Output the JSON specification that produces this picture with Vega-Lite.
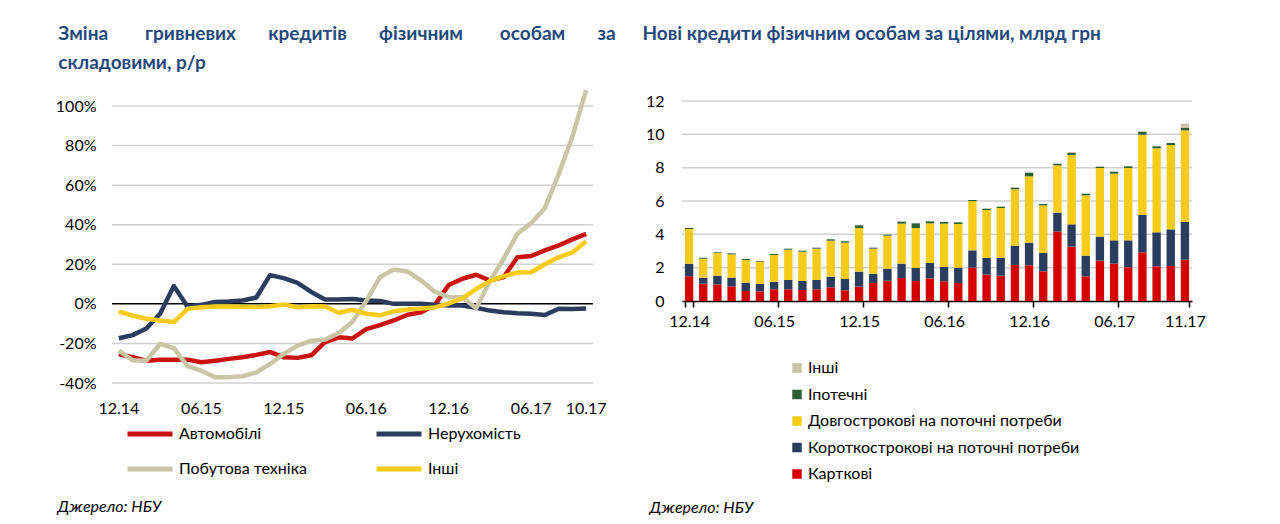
{
  "$schema": "https://vega.github.io/schema/vega-lite/v6.json",
  "padding": {"left": 55, "top": 24, "right": 0, "bottom": 0},
  "background": "white",
  "spacing": 26,
  "resolve": {"scale": {"x": "independent", "y": "independent", "color": "independent"}, "legend": {"color": "independent"}, "axis": {"x": "independent", "y": "independent"}},
  "config": {
    "font": "Lato",
    "view": {"stroke": null},
    "title": {"font": "Lato", "fontSize": 19, "fontWeight": "bold", "color": "#1F497D", "anchor": "start", "frame": "bounds", "lineHeight": 29},
    "axis": {"labelFont": "Lato", "labelFontSize": 16, "labelColor": "#000000", "titleFont": "Lato", "titleFontSize": 16, "titleFontStyle": "italic", "titleFontWeight": "normal", "titleColor": "#000000"},
    "legend": {"labelFont": "Lato", "labelFontSize": 16, "labelColor": "#000000", "padding": 0, "labelLimit": 500}
  },
  "hconcat": [
    {
      "width": 481,
      "height": 282,
      "title": {"text": ["Зміна\u00a0\u00a0\u00a0\u00a0\u00a0\u00a0\u00a0\u00a0гривневих\u00a0\u00a0\u00a0\u00a0\u00a0\u00a0\u00a0кредитів\u00a0\u00a0\u00a0\u00a0\u00a0\u00a0\u00a0фізичним\u00a0\u00a0\u00a0\u00a0\u00a0\u00a0\u00a0\u00a0особам\u00a0\u00a0\u00a0\u00a0\u00a0\u00a0\u00a0за", "складовими, р/р"], "offset": 15, "dx": 3},
      "data": {"values": [
        {"m": "12.14", "Автомобілі": -25.5, "Нерухомість": -17.4, "Побутова техніка": -23.6, "Інші": -3.9},
        {"m": "01.15", "Автомобілі": -27, "Нерухомість": -15.8, "Побутова техніка": -28.5, "Інші": -5.9},
        {"m": "02.15", "Автомобілі": -28.7, "Нерухомість": -12.5, "Побутова техніка": -28.7, "Інші": -7.5},
        {"m": "03.15", "Автомобілі": -28.2, "Нерухомість": -5, "Побутова техніка": -20.3, "Інші": -8.4},
        {"m": "04.15", "Автомобілі": -28.2, "Нерухомість": 9, "Побутова техніка": -22.4, "Інші": -9.2},
        {"m": "05.15", "Автомобілі": -28.2, "Нерухомість": -1.5, "Побутова техніка": -31.5, "Інші": -2.5},
        {"m": "06.15", "Автомобілі": -29.5, "Нерухомість": -0.5, "Побутова техніка": -33.8, "Інші": -1.7},
        {"m": "07.15", "Автомобілі": -28.7, "Нерухомість": 1, "Побутова техніка": -37.1, "Інші": -1.3},
        {"m": "08.15", "Автомобілі": -27.8, "Нерухомість": 1.2, "Побутова техніка": -37.1, "Інші": -1.3},
        {"m": "09.15", "Автомобілі": -27, "Нерухомість": 1.7, "Побутова техніка": -36.6, "Інші": -1.5},
        {"m": "10.15", "Автомобілі": -25.8, "Нерухомість": 3.2, "Побутова техніка": -34.6, "Інші": -1.6},
        {"m": "11.15", "Автомобілі": -24.3, "Нерухомість": 14.5, "Побутова техніка": -30.4, "Інші": -1.2},
        {"m": "12.15", "Автомобілі": -27, "Нерухомість": 13, "Побутова техніка": -25.3, "Інші": -0.3},
        {"m": "01.16", "Автомобілі": -27.3, "Нерухомість": 10.6, "Побутова техніка": -21.1, "Інші": -1.7},
        {"m": "02.16", "Автомобілі": -26, "Нерухомість": 6, "Побутова техніка": -18.6, "Інші": -1.2},
        {"m": "03.16", "Автомобілі": -19.4, "Нерухомість": 2.2, "Побутова техніка": -18, "Інші": -1.3},
        {"m": "04.16", "Автомобілі": -16.9, "Нерухомість": 2.2, "Побутова техніка": -14.8, "Інші": -4.5},
        {"m": "05.16", "Автомобілі": -17.5, "Нерухомість": 2.5, "Побутова техніка": -9, "Інші": -3},
        {"m": "06.16", "Автомобілі": -12.8, "Нерухомість": 1.7, "Побутова техніка": 1.5, "Інші": -5},
        {"m": "07.16", "Автомобілі": -10.7, "Нерухомість": 1.5, "Побутова техніка": 13.5, "Інші": -5.8},
        {"m": "08.16", "Автомобілі": -8.4, "Нерухомість": 0, "Побутова техніка": 17.4, "Інші": -3.8},
        {"m": "09.16", "Автомобілі": -5.5, "Нерухомість": 0, "Побутова техніка": 16.4, "Інші": -2.8},
        {"m": "10.16", "Автомобілі": -4.2, "Нерухомість": 0, "Побутова техніка": 11.8, "Інші": -2.4},
        {"m": "11.16", "Автомобілі": -0.5, "Нерухомість": -0.5, "Побутова техніка": 6, "Інші": -1.8},
        {"m": "12.16", "Автомобілі": 9.5, "Нерухомість": -0.8, "Побутова техніка": 3.5, "Інші": 0.2},
        {"m": "01.17", "Автомобілі": 12.7, "Нерухомість": -0.8, "Побутова техніка": 3.4, "Інші": 2.8},
        {"m": "02.17", "Автомобілі": 14.7, "Нерухомість": -2, "Побутова техніка": -2.2, "Інші": 7.5},
        {"m": "03.17", "Автомобілі": 11.8, "Нерухомість": -3.4, "Побутова техніка": 11.5, "Інші": 11.5},
        {"m": "04.17", "Автомобілі": 13.5, "Нерухомість": -4.2, "Побутова техніка": 22.8, "Інші": 14},
        {"m": "05.17", "Автомобілі": 23.6, "Нерухомість": -4.7, "Побутова техніка": 35.5, "Інші": 15.8},
        {"m": "06.17", "Автомобілі": 24.2, "Нерухомість": -5, "Побутова техніка": 40.8, "Інші": 16},
        {"m": "07.17", "Автомобілі": 27, "Нерухомість": -5.6, "Побутова техніка": 48.5, "Інші": 20},
        {"m": "08.17", "Автомобілі": 29.5, "Нерухомість": -2.5, "Побутова техніка": 65.5, "Інші": 23.5},
        {"m": "09.17", "Автомобілі": 32.6, "Нерухомість": -2.6, "Побутова техніка": 84.5, "Інші": 26},
        {"m": "10.17", "Автомобілі": 35.4, "Нерухомість": -2.3, "Побутова техніка": 108, "Інші": 31.6}
      ]},
      "layer": [
        {
          "data": {"values": [{"g": -40}, {"g": -20}, {"g": 20}, {"g": 40}, {"g": 60}, {"g": 80}, {"g": 100}]},
          "mark": {"type": "rule", "color": "#D0D0D0", "strokeWidth": 1.5},
          "encoding": {"y": {"field": "g", "type": "quantitative",
            "axis": {"values": [-40, -20, 0, 20, 40, 60, 80, 100], "labelExpr": "datum.value + '%'", "labelOverlap": false, "grid": false, "domain": false, "ticks": false, "labelPadding": 16, "title": null}}}
        },
        {
          "data": {"values": [{"z": 0}]},
          "mark": {"type": "rule", "color": "#000000", "strokeWidth": 1.5},
          "encoding": {"y": {"field": "z", "type": "quantitative"}}
        },
        {
          "transform": [{"fold": ["Автомобілі", "Нерухомість", "Побутова техніка", "Інші"], "as": ["s", "v"]}],
          "mark": {"type": "line", "strokeWidth": 4.5, "strokeJoin": "round", "strokeCap": "butt", "clip": false},
          "encoding": {
            "x": {"field": "m", "type": "ordinal", "sort": null, "bandPosition": 0.5,
              "scale": {"type": "band", "paddingInner": 0, "paddingOuter": 0},
              "axis": {"values": ["12.14", "06.15", "12.15", "06.16", "12.16", "06.17", "10.17"], "domain": false, "ticks": false, "grid": false, "labelAngle": 0, "labelPadding": 17,
                "title": "Джерело: НБУ", "titleAnchor": "start", "titleAlign": "left", "titleBaseline": "alphabetic", "titleX": -55, "titleY": 128}},
            "y": {"field": "v", "type": "quantitative",
              "scale": {"domain": [-40, 102.53], "nice": false, "zero": false},
              "axis": {"values": [-40, -20, 0, 20, 40, 60, 80, 100], "labelExpr": "datum.value + '%'", "labelOverlap": false, "grid": false, "domain": false, "ticks": false, "labelPadding": 16, "title": null}},
            "color": {"field": "s", "type": "nominal",
              "scale": {"domain": ["Автомобілі", "Нерухомість", "Побутова техніка", "Інші"], "range": ["#CC1111", "#2B3D5F", "#C9C6A6", "#F7CB1A"]},
              "legend": {"title": null, "orient": "none", "legendX": 13, "legendY": 308, "columns": 2, "direction": "horizontal", "symbolType": "stroke", "symbolSize": 2025, "symbolStrokeWidth": 5, "columnPadding": 59, "rowPadding": -17, "labelOffset": 4}
            }
          }
        }
      ]
    },
    {
      "width": 510,
      "height": 200,
      "title": {"text": "Нові кредити фізичним особам за цілями, млрд грн", "offset": 49, "dx": -3},
      "data": {"values": [
        {"m": "12.14", "Карткові": 1.48, "Короткострокові на поточні потреби": 0.76, "Довгострокові на поточні потреби": 2.08, "Іпотечні": 0.06, "Інші": 0},
        {"m": "01.15", "Карткові": 1.04, "Короткострокові на поточні потреби": 0.36, "Довгострокові на поточні потреби": 1.14, "Іпотечні": 0.06, "Інші": 0},
        {"m": "02.15", "Карткові": 1.0, "Короткострокові на поточні потреби": 0.52, "Довгострокові на поточні потреби": 1.38, "Іпотечні": 0.04, "Інші": 0},
        {"m": "03.15", "Карткові": 0.88, "Короткострокові на поточні потреби": 0.52, "Довгострокові на поточні потреби": 1.4, "Іпотечні": 0.06, "Інші": 0},
        {"m": "04.15", "Карткові": 0.6, "Короткострокові на поточні потреби": 0.5, "Довгострокові на поточні потреби": 1.36, "Іпотечні": 0.06, "Інші": 0},
        {"m": "05.15", "Карткові": 0.58, "Короткострокові на поточні потреби": 0.44, "Довгострокові на поточні потреби": 1.34, "Іпотечні": 0.04, "Інші": 0},
        {"m": "06.15", "Карткові": 0.7, "Короткострокові на поточні потреби": 0.46, "Довгострокові на поточні потреби": 1.6, "Іпотечні": 0.06, "Інші": 0},
        {"m": "07.15", "Карткові": 0.7, "Короткострокові на поточні потреби": 0.56, "Довгострокові на поточні потреби": 1.82, "Іпотечні": 0.06, "Інші": 0},
        {"m": "08.15", "Карткові": 0.66, "Короткострокові на поточні потреби": 0.54, "Довгострокові на поточні потреби": 1.76, "Іпотечні": 0.06, "Інші": 0},
        {"m": "09.15", "Карткові": 0.7, "Короткострокові на поточні потреби": 0.56, "Довгострокові на поточні потреби": 1.88, "Іпотечні": 0.06, "Інші": 0},
        {"m": "10.15", "Карткові": 0.82, "Короткострокові на поточні потреби": 0.64, "Довгострокові на поточні потреби": 2.16, "Іпотечні": 0.08, "Інші": 0},
        {"m": "11.15", "Карткові": 0.64, "Короткострокові на поточні потреби": 0.68, "Довгострокові на поточні потреби": 2.18, "Іпотечні": 0.08, "Інші": 0},
        {"m": "12.15", "Карткові": 0.86, "Короткострокові на поточні потреби": 0.9, "Довгострокові на поточні потреби": 2.62, "Іпотечні": 0.16, "Інші": 0},
        {"m": "01.16", "Карткові": 1.08, "Короткострокові на поточні потреби": 0.56, "Довгострокові на поточні потреби": 1.5, "Іпотечні": 0.06, "Інші": 0},
        {"m": "02.16", "Карткові": 1.22, "Короткострокові на поточні потреби": 0.72, "Довгострокові на поточні потреби": 1.98, "Іпотечні": 0.06, "Інші": 0},
        {"m": "03.16", "Карткові": 1.38, "Короткострокові на поточні потреби": 0.86, "Довгострокові на поточні потреби": 2.4, "Іпотечні": 0.12, "Інші": 0},
        {"m": "04.16", "Карткові": 1.2, "Короткострокові на поточні потреби": 0.78, "Довгострокові на поточні потреби": 2.4, "Іпотечні": 0.28, "Інші": 0},
        {"m": "05.16", "Карткові": 1.36, "Короткострокові на поточні потреби": 0.92, "Довгострокові на поточні потреби": 2.38, "Іпотечні": 0.12, "Інші": 0},
        {"m": "06.16", "Карткові": 1.18, "Короткострокові на поточні потреби": 0.86, "Довгострокові на поточні потреби": 2.6, "Іпотечні": 0.1, "Інші": 0},
        {"m": "07.16", "Карткові": 1.08, "Короткострокові на поточні потреби": 0.92, "Довгострокові на поточні потреби": 2.62, "Іпотечні": 0.1, "Інші": 0},
        {"m": "08.16", "Карткові": 2.0, "Короткострокові на поточні потреби": 1.04, "Довгострокові на поточні потреби": 2.96, "Іпотечні": 0.06, "Інші": 0},
        {"m": "09.16", "Карткові": 1.58, "Короткострокові на поточні потреби": 1.0, "Довгострокові на поточні потреби": 2.88, "Іпотечні": 0.08, "Інші": 0},
        {"m": "10.16", "Карткові": 1.52, "Короткострокові на поточні потреби": 1.06, "Довгострокові на поточні потреби": 3.0, "Іпотечні": 0.08, "Інші": 0},
        {"m": "11.16", "Карткові": 2.16, "Короткострокові на поточні потреби": 1.16, "Довгострокові на поточні потреби": 3.38, "Іпотечні": 0.1, "Інші": 0},
        {"m": "12.16", "Карткові": 2.14, "Короткострокові на поточні потреби": 1.36, "Довгострокові на поточні потреби": 3.98, "Іпотечні": 0.22, "Інші": 0},
        {"m": "01.17", "Карткові": 1.78, "Короткострокові на поточні потреби": 1.1, "Довгострокові на поточні потреби": 2.86, "Іпотечні": 0.08, "Інші": 0},
        {"m": "02.17", "Карткові": 4.16, "Короткострокові на поточні потреби": 1.14, "Довгострокові на поточні потреби": 2.84, "Іпотечні": 0.1, "Інші": 0},
        {"m": "03.17", "Карткові": 3.26, "Короткострокові на поточні потреби": 1.34, "Довгострокові на поточні потреби": 4.16, "Іпотечні": 0.14, "Інші": 0},
        {"m": "04.17", "Карткові": 1.48, "Короткострокові на поточні потреби": 1.24, "Довгострокові на поточні потреби": 3.62, "Іпотечні": 0.1, "Інші": 0},
        {"m": "05.17", "Карткові": 2.42, "Короткострокові на поточні потреби": 1.44, "Довгострокові на поточні потреби": 4.12, "Іпотечні": 0.08, "Інші": 0},
        {"m": "06.17", "Карткові": 2.24, "Короткострокові на поточні потреби": 1.4, "Довгострокові на поточні потреби": 4.0, "Іпотечні": 0.12, "Інші": 0},
        {"m": "07.17", "Карткові": 2.02, "Короткострокові на поточні потреби": 1.62, "Довгострокові на поточні потреби": 4.34, "Іпотечні": 0.1, "Інші": 0},
        {"m": "08.17", "Карткові": 2.92, "Короткострокові на поточні потреби": 2.24, "Довгострокові на поточні потреби": 4.82, "Іпотечні": 0.18, "Інші": 0},
        {"m": "09.17", "Карткові": 2.08, "Короткострокові на поточні потреби": 2.04, "Довгострокові на поточні потреби": 5.04, "Іпотечні": 0.12, "Інші": 0},
        {"m": "10.17", "Карткові": 2.1, "Короткострокові на поточні потреби": 2.2, "Довгострокові на поточні потреби": 5.06, "Іпотечні": 0.12, "Інші": 0},
        {"m": "11.17", "Карткові": 2.48, "Короткострокові на поточні потреби": 2.26, "Довгострокові на поточні потреби": 5.5, "Іпотечні": 0.14, "Інші": 0.26}
      ]},
      "layer": [
        {
          "data": {"values": [{"g": 2}, {"g": 4}, {"g": 6}, {"g": 8}, {"g": 10}, {"g": 12}]},
          "mark": {"type": "rule", "color": "#D0D0D0", "strokeWidth": 1.5},
          "encoding": {"y": {"field": "g", "type": "quantitative",
            "axis": {"values": [0, 2, 4, 6, 8, 10, 12], "labelOverlap": false, "grid": false, "domain": false, "ticks": false, "labelPadding": 18, "title": null}}}
        },
        {
          "transform": [
            {"fold": ["Карткові", "Короткострокові на поточні потреби", "Довгострокові на поточні потреби", "Іпотечні", "Інші"], "as": ["k", "v"]},
            {"calculate": "indexof(['Карткові', 'Короткострокові на поточні потреби', 'Довгострокові на поточні потреби', 'Іпотечні', 'Інші'], datum.k)", "as": "o"}
          ],
          "mark": {"type": "bar"},
          "encoding": {
            "x": {"field": "m", "type": "ordinal", "sort": null,
              "scale": {"type": "band", "paddingInner": 0.41, "paddingOuter": 0.205},
              "axis": {"values": ["12.14", "06.15", "12.15", "06.16", "12.16", "06.17", "11.17"], "domainColor": "#000000", "domainWidth": 1.5, "tickColor": "#000000", "tickSize": 6, "tickWidth": 1.5, "tickBand": "extent", "grid": false, "labelAngle": 0, "labelPadding": 6,
                "title": "Джерело: НБУ", "titleAnchor": "start", "titleAlign": "left", "titleBaseline": "alphabetic", "titleX": -33, "titleY": 211}},
            "y": {"field": "v", "type": "quantitative", "stack": "zero",
              "scale": {"domain": [0, 12], "nice": false},
              "axis": {"values": [0, 2, 4, 6, 8, 10, 12], "labelOverlap": false, "grid": false, "domain": false, "ticks": false, "labelPadding": 18, "title": null}},
            "color": {"field": "k", "type": "nominal",
              "scale": {"domain": ["Інші", "Іпотечні", "Довгострокові на поточні потреби", "Короткострокові на поточні потреби", "Карткові"], "range": ["#C9C6A6", "#2E5E34", "#F7CB1A", "#2B3D5F", "#D40000"]},
              "legend": {"title": null, "orient": "none", "legendX": 107, "legendY": 259, "symbolType": "square", "symbolSize": 90, "symbolStrokeWidth": 0, "rowPadding": 10.5, "labelOffset": 3}},
            "order": {"field": "o", "type": "quantitative", "sort": "ascending"}
          }
        }
      ]
    }
  ]
}
